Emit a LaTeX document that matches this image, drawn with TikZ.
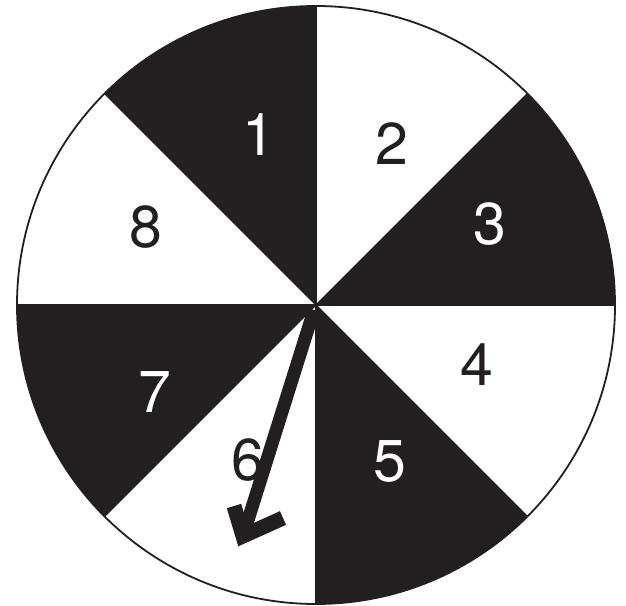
\documentclass[tikz,border=0pt]{standalone}
\usepackage{fontspec}
\setmainfont{TeX Gyre Heros}
\definecolor{ink}{HTML}{231F20}
\begin{document}
\begin{tikzpicture}[x=1pt,y=-1pt,
  blk/.style={fill=ink},
  numw/.style={text=white,inner sep=0pt,font=\fontsize{59}{59}\selectfont},
  numb/.style={text=ink,inner sep=0pt,font=\fontsize{59}{59}\selectfont},
  pointer/.style={draw=ink,line width=13pt}]
\useasboundingbox (0,0) rectangle (626,605);
\coordinate (c) at (316,305);
\def\R{299}
% black sectors (y axis flipped: angles measured clockwise on page)
\fill[blk] (c) -- ++(-135:\R) arc[start angle=-135,end angle=-90,radius=\R] -- cycle;
\fill[blk] (c) -- ++(0:\R) arc[start angle=0,end angle=-45,radius=\R] -- cycle;
\fill[blk] (c) -- ++(90:\R) arc[start angle=90,end angle=45,radius=\R] -- cycle;
\fill[blk] (c) -- ++(180:\R) arc[start angle=180,end angle=135,radius=\R] -- cycle;
\draw[ink,line width=1.8pt] (c) circle[radius=\R];
\foreach \a in {0,45,...,315} \draw[ink,line width=1.2pt] (c) -- ++(\a:\R);
% numbers
\node[numw] (n1) at (259,135) {1};
\node[numb] (n2) at (392,144) {2};
\node[numw] (n3) at (490,224) {3};
\node[numb] (n4) at (477,365) {4};
\node[numw] (n5) at (390,461) {5};
\node[numb] (n6) at (248,460) {6};
\node[numw] (n7) at (155,392) {7};
\node[numb] (n8) at (146,227) {8};
% pointer
\coordinate (tip) at (243,536);
\coordinate (hl) at (234,506);
\coordinate (hr) at (283,518);
\draw[pointer] (314,310) -- (tip);
\draw[pointer,line width=15pt,line join=miter,miter limit=10] (hl) -- (tip) -- (hr);
\end{tikzpicture}
\end{document}
